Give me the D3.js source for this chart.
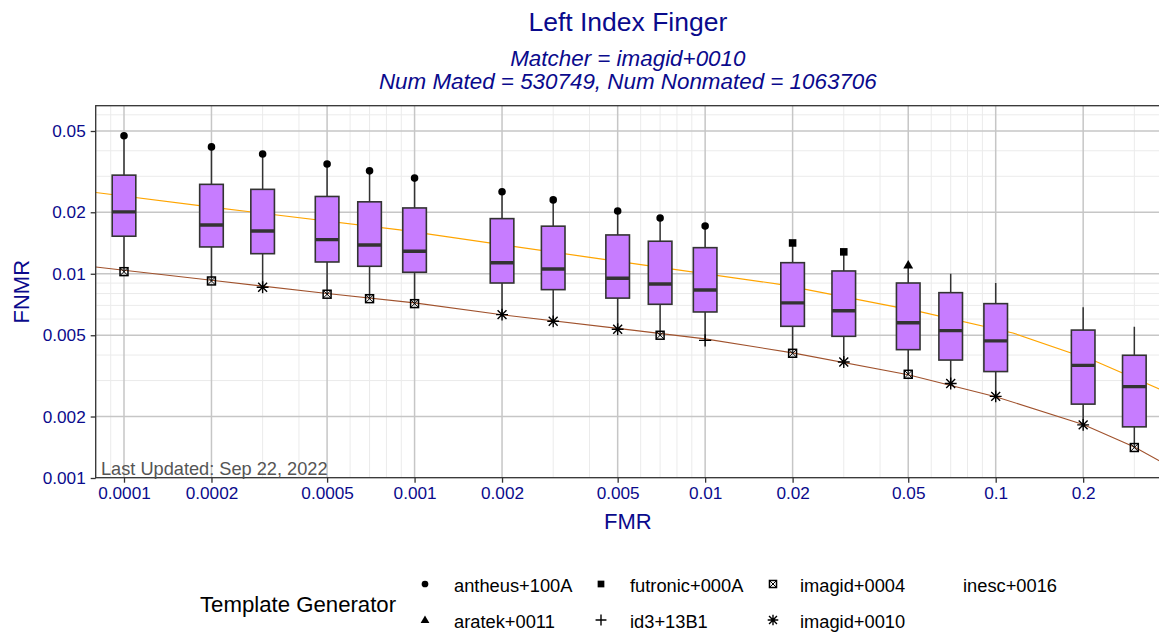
<!DOCTYPE html>
<html>
<head>
<meta charset="utf-8">
<script src="https://cdn.jsdelivr.net/npm/d3@7"></script>
<style>
  html, body { margin: 0; padding: 0; background: #fff; }
  svg { display: block; font-family: "Liberation Sans", Arial, Helvetica, sans-serif; }
</style>
</head>
<body>
<svg id="chart" width="1159" height="633"></svg>
<script>
// ---------------- DATA ----------------
const fmrLevels = [0.0001, 0.0002, 0.0003, 0.0005, 0.0007, 0.001, 0.002, 0.003, 0.005, 0.007, 0.01, 0.02, 0.03, 0.05, 0.07, 0.1, 0.2, 0.3];
const q1Vals     = [0.01527, 0.01353, 0.01254, 0.01142, 0.01088, 0.01017, 0.00901, 0.00836, 0.0076, 0.00709, 0.0065, 0.00553, 0.00494, 0.00425, 0.00378, 0.00332, 0.0023, 0.00178];
const medianVals = [0.0201, 0.01734, 0.0162, 0.01469, 0.01384, 0.01288, 0.01133, 0.01056, 0.00951, 0.00891, 0.00833, 0.0072, 0.00659, 0.00576, 0.00527, 0.00469, 0.00356, 0.0028];
const q3Vals     = [0.0304, 0.0274, 0.0259, 0.0239, 0.0225, 0.0210, 0.01862, 0.0171, 0.01549, 0.01443, 0.01342, 0.01133, 0.01032, 0.00901, 0.00808, 0.00714, 0.0053, 0.00399];
const maxVals    = [0.0474, 0.0418, 0.0386, 0.0345, 0.0319, 0.0294, 0.0252, 0.0230, 0.0203, 0.01876, 0.01714, 0.01415, 0.0128, 0.01104, 0.0100, 0.0090, 0.00686, 0.00551];
const maxGenerators = ["antheus+100A","antheus+100A","antheus+100A","antheus+100A","antheus+100A","antheus+100A","antheus+100A","antheus+100A","antheus+100A","antheus+100A","antheus+100A","futronic+000A","futronic+000A","aratek+0011","inesc+0016","inesc+0016","inesc+0016","inesc+0016"];
const minVals    = [0.01024, 0.00922, 0.00859, 0.00794, 0.00755, 0.00714, 0.00631, 0.00585, 0.00535, 0.0050, 0.00472, 0.00408, 0.0037, 0.00322, 0.0029, 0.00251, 0.00182, 0.00141];
const minGenerators = ["imagid+0004","imagid+0004","imagid+0010","imagid+0004","imagid+0004","imagid+0004","imagid+0010","imagid+0010","imagid+0010","imagid+0004","id3+13B1","imagid+0004","imagid+0010","imagid+0004","imagid+0010","imagid+0010","imagid+0010","imagid+0004"];

// DET curves
const orangeFmr  = [0.00008, 0.0002, 0.00089, 0.0039, 0.0181, 0.0548, 0.1146, 0.2224, 0.367];
const orangeFnmr = [0.0250, 0.0212, 0.0164, 0.0121, 0.00888, 0.00652, 0.00513, 0.00371, 0.00272];
const brownFmr   = [0.00008, 0.0001, 0.0002, 0.0005, 0.001, 0.002, 0.005, 0.01, 0.02, 0.05, 0.1, 0.2, 0.3, 0.367];
const brownFnmr  = [0.0108, 0.0104, 0.0093, 0.0080, 0.0072, 0.0063, 0.0054, 0.0048, 0.0041, 0.0032, 0.0025, 0.00183, 0.00142, 0.00121];

// Ticks
const xTicks = [0.0001, 0.0002, 0.0005, 0.001, 0.002, 0.005, 0.01, 0.02, 0.05, 0.1, 0.2];
const xTickLabels = ["0.0001", "0.0002", "0.0005", "0.001", "0.002", "0.005", "0.01", "0.02", "0.05", "0.1", "0.2"];
const yTicks = [0.001, 0.002, 0.005, 0.01, 0.02, 0.05];
const yTickLabels = ["0.001", "0.002", "0.005", "0.01", "0.02", "0.05"];

// Legend
const legendGenerators = ["antheus+100A", "aratek+0011", "futronic+000A", "id3+13B1", "imagid+0004", "imagid+0010", "inesc+0016"];
const generatorShapes = {
  "antheus+100A": "circle", "aratek+0011": "triangle", "futronic+000A": "square",
  "id3+13B1": "plus", "imagid+0004": "squarex", "imagid+0010": "asterisk", "inesc+0016": "none"
};

// ---------------- LAYOUT ----------------
const svg = d3.select("#chart");
const panel = { left: 95.7, right: 1160, top: 105.7, bottom: 477.7 };
const navy = "#0a0a8c";

const x = d3.scaleLog().domain([0.0001, 0.1]).range([124, 995.7]);
const y = d3.scaleLog().domain([0.001, 0.05]).range([478, 131]);

const defs = svg.append("defs");
defs.append("clipPath").attr("id", "clip")
  .append("rect").attr("x", panel.left).attr("y", panel.top)
  .attr("width", panel.right - panel.left).attr("height", panel.bottom - panel.top);

// grid
const gridG = svg.append("g").attr("clip-path", "url(#clip)");
function minorTicks(lo, hi, major) {
  const out = [];
  for (let e = -6; e <= 1; e++) for (let k = 1; k <= 9; k++) {
    const v = k * Math.pow(10, e);
    if (v >= lo && v <= hi && !major.some(m => Math.abs(m - v) / v < 1e-6)) out.push(v);
  }
  return out;
}
const xMinor = minorTicks(x.invert(panel.left), x.invert(panel.right), xTicks);
const yMinor = minorTicks(y.invert(panel.bottom), y.invert(panel.top), yTicks);
gridG.selectAll("line.xm").data(xMinor).enter().append("line")
  .attr("x1", d => x(d)).attr("x2", d => x(d)).attr("y1", panel.top).attr("y2", panel.bottom)
  .attr("stroke", "#ebebeb").attr("stroke-width", 1);
gridG.selectAll("line.ym").data(yMinor).enter().append("line")
  .attr("y1", d => y(d)).attr("y2", d => y(d)).attr("x1", panel.left).attr("x2", panel.right)
  .attr("stroke", "#ebebeb").attr("stroke-width", 1);
gridG.selectAll("line.xM").data(xTicks).enter().append("line")
  .attr("x1", d => x(d)).attr("x2", d => x(d)).attr("y1", panel.top).attr("y2", panel.bottom)
  .attr("stroke", "#c6c6c6").attr("stroke-width", 1.5);
gridG.selectAll("line.yM").data(yTicks).enter().append("line")
  .attr("y1", d => y(d)).attr("y2", d => y(d)).attr("x1", panel.left).attr("x2", panel.right)
  .attr("stroke", "#c6c6c6").attr("stroke-width", 1.5);

// DET lines
const plotG = svg.append("g").attr("clip-path", "url(#clip)");
const line = d3.line().x(d => x(d[0])).y(d => y(d[1]));
plotG.append("path").datum(d3.zip(orangeFmr, orangeFnmr)).attr("d", line)
  .attr("fill", "none").attr("stroke", "#FFA500").attr("stroke-width", 1.2);
plotG.append("path").datum(d3.zip(brownFmr, brownFnmr)).attr("d", line)
  .attr("fill", "none").attr("stroke", "#A0522D").attr("stroke-width", 1.1);

// boxplots
const boxW = 23.6;
const boxes = fmrLevels.map((f, i) => ({ f, q1: q1Vals[i], med: medianVals[i], q3: q3Vals[i], lo: minVals[i], hi: maxVals[i] }));
const bg = plotG.selectAll("g.box").data(boxes).enter().append("g");
bg.append("line").attr("x1", d => x(d.f)).attr("x2", d => x(d.f))
  .attr("y1", d => y(d.q3)).attr("y2", d => y(d.hi)).attr("stroke", "#333").attr("stroke-width", 1.5);
bg.append("line").attr("x1", d => x(d.f)).attr("x2", d => x(d.f))
  .attr("y1", d => y(d.q1)).attr("y2", d => y(d.lo)).attr("stroke", "#333").attr("stroke-width", 1.5);
bg.append("rect").attr("x", d => x(d.f) - boxW / 2).attr("width", boxW)
  .attr("y", d => y(d.q3)).attr("height", d => y(d.q1) - y(d.q3))
  .attr("fill", "#C77CFF").attr("stroke", "#333").attr("stroke-width", 1.6);
bg.append("line").attr("x1", d => x(d.f) - boxW / 2).attr("x2", d => x(d.f) + boxW / 2)
  .attr("y1", d => y(d.med)).attr("y2", d => y(d.med)).attr("stroke", "#333").attr("stroke-width", 3.4);

// shapes
function drawShape(g, shape, cx, cy, s) {
  if (shape === "circle") {
    g.append("circle").attr("cx", cx).attr("cy", cy).attr("r", s * 0.42).attr("fill", "#000");
  } else if (shape === "square") {
    const h = s * 0.42;
    g.append("rect").attr("x", cx - h).attr("y", cy - h).attr("width", 2 * h).attr("height", 2 * h).attr("fill", "#000");
  } else if (shape === "triangle") {
    const h = s * 0.55;
    g.append("path").attr("d", `M${cx},${cy - h}L${cx + h},${cy + h * 0.7}L${cx - h},${cy + h * 0.7}Z`).attr("fill", "#000");
  } else if (shape === "plus") {
    const h = s * 0.68;
    g.append("path").attr("d", `M${cx - h},${cy}H${cx + h}M${cx},${cy - h}V${cy + h}`).attr("stroke", "#000").attr("stroke-width", 1.4).attr("fill", "none");
  } else if (shape === "squarex") {
    const h = s * 0.44;
    g.append("rect").attr("x", cx - h).attr("y", cy - h).attr("width", 2 * h).attr("height", 2 * h)
      .attr("fill", "none").attr("stroke", "#000").attr("stroke-width", 1.5);
    g.append("path").attr("d", `M${cx - h},${cy - h}L${cx + h},${cy + h}M${cx + h},${cy - h}L${cx - h},${cy + h}`)
      .attr("stroke", "#000").attr("stroke-width", 1).attr("fill", "none");
  } else if (shape === "asterisk") {
    const h = s * 0.66, d = h * 0.75;
    g.append("path").attr("d", `M${cx - h},${cy}H${cx + h}M${cx},${cy - h}V${cy + h}M${cx - d},${cy - d}L${cx + d},${cy + d}M${cx + d},${cy - d}L${cx - d},${cy + d}`)
      .attr("stroke", "#000").attr("stroke-width", 1.4).attr("fill", "none");
  }
}
const ptG = svg.append("g").attr("clip-path", "url(#clip)");
fmrLevels.forEach((f, i) => {
  drawShape(ptG, generatorShapes[maxGenerators[i]], x(f), y(maxVals[i]), 9);
  drawShape(ptG, generatorShapes[minGenerators[i]], x(f), y(minVals[i]), 9);
});

// panel border
svg.append("rect").attr("x", panel.left).attr("y", panel.top)
  .attr("width", panel.right - panel.left).attr("height", panel.bottom - panel.top)
  .attr("fill", "none").attr("stroke", "#333").attr("stroke-width", 1.3);

// axes
const xAxis = d3.axisBottom(x).tickValues(xTicks).tickFormat((d, i) => xTickLabels[i]).tickSize(5).tickPadding(4);
const gx = svg.append("g").attr("transform", `translate(0,${panel.bottom})`).call(xAxis);
gx.select(".domain").remove();
gx.selectAll(".tick line").attr("stroke", "#333").attr("stroke-width", 1.3);
gx.selectAll(".tick text").attr("fill", navy).attr("font-size", "17.2px").attr("font-family", "Liberation Sans, Arial, sans-serif").attr("dy", "0.71em");

const yAxis = d3.axisLeft(y).tickValues(yTicks).tickFormat((d, i) => yTickLabels[i]).tickSize(5).tickPadding(5);
const gy = svg.append("g").attr("transform", `translate(${panel.left},0)`).call(yAxis);
gy.select(".domain").remove();
gy.selectAll(".tick line").attr("stroke", "#333").attr("stroke-width", 1.3);
gy.selectAll(".tick text").attr("fill", navy).attr("font-size", "17.2px").attr("font-family", "Liberation Sans, Arial, sans-serif");

// annotation
svg.append("text").attr("x", 101).attr("y", 475).attr("font-size", "18.2px").attr("fill", "#555")
  .text("Last Updated: Sep 22, 2022");

// titles
const cx = (panel.left + panel.right) / 2;
svg.append("text").attr("x", cx).attr("y", 31).attr("text-anchor", "middle").attr("font-size", "26.5px").attr("fill", navy).text("Left Index Finger");
svg.append("text").attr("x", cx).attr("y", 66).attr("text-anchor", "middle").attr("font-size", "22.4px").attr("font-style", "italic").attr("fill", navy).text("Matcher = imagid+0010");
svg.append("text").attr("x", cx).attr("y", 89).attr("text-anchor", "middle").attr("font-size", "22.4px").attr("font-style", "italic").attr("fill", navy).text("Num Mated = 530749, Num Nonmated = 1063706");
svg.append("text").attr("x", cx).attr("y", 529).attr("text-anchor", "middle").attr("font-size", "22px").attr("fill", navy).text("FMR");
svg.append("text").attr("transform", `translate(29,${(panel.top + panel.bottom) / 2}) rotate(-90)`).attr("text-anchor", "middle").attr("font-size", "22px").attr("fill", navy).text("FNMR");

// legend
svg.append("text").attr("x", 200).attr("y", 612).attr("font-size", "22.2px").attr("fill", "#000").text("Template Generator");
const legSymX = [425, 601, 773, 935];
const legTxtX = [454, 630, 800, 963];
const legRowY = [584, 620];
const legG = svg.append("g");
legendGenerators.forEach((gname, i) => {
  const col = Math.floor(i / 2), row = i % 2;
  drawShape(legG, generatorShapes[gname], legSymX[col], legRowY[row], 8);
  legG.append("text").attr("x", legTxtX[col]).attr("y", legRowY[row] + 7.5).attr("font-size", "18.3px").attr("fill", "#000").text(gname);
});
</script>
</body>
</html>
